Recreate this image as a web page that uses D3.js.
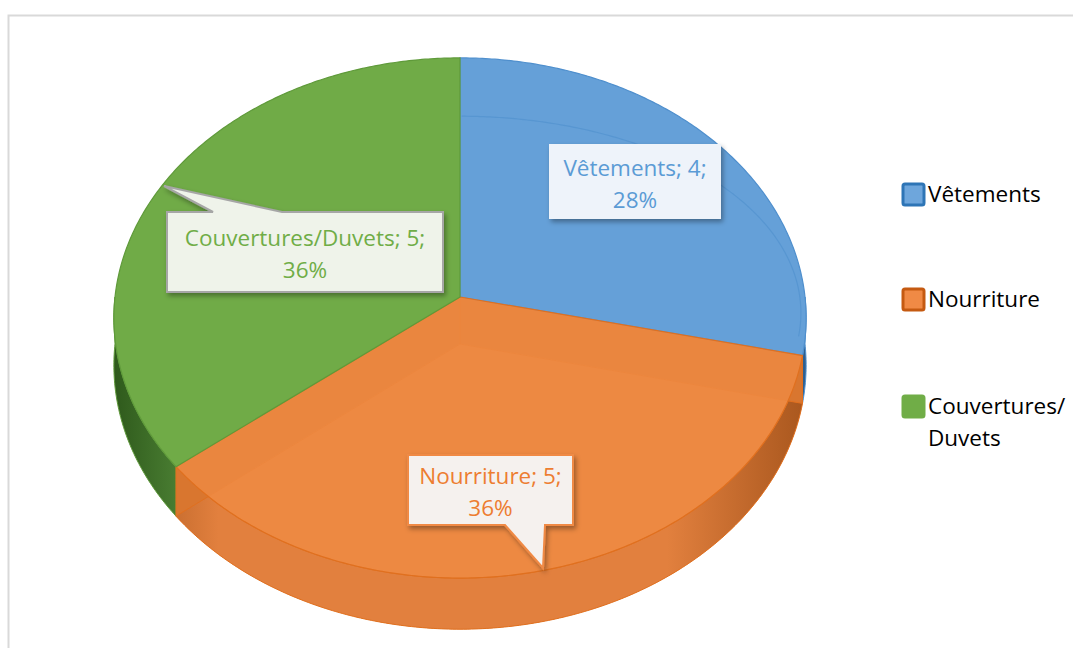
<!DOCTYPE html>
<html>
<head>
  <script src="https://d3js.org/d3.v7.min.js"></script>
  <style>
    body { margin: 0; background: #fff; }
    text { font-family: "Open Sans", "DejaVu Sans", sans-serif; }
  </style>
</head>
<body>
  <script>
    // data
    var categories = ["Vêtements", "Nourriture", "Couvertures/Duvets"];
    var values = [4, 5, 5];
    var percentLabels = ["28%", "36%", "36%"];
    var legendLines = [["Vêtements"], ["Nourriture"], ["Couvertures/", "Duvets"]];

    var topColors = ["#65a0d8", "#ee8a43", "#70ab47"];
    var edgeColors = ["#4f8fcd", "#e0701f", "#5f9a3a"];
    var wallDark = ["#2f5f8f", "#a9571e", "#2f5a1c"];
    var wallLight = ["#4a86c0", "#e2803e", "#5a9440"];
    var legendBorder = ["#2e75b6", "#c55a11", "#70ad47"];
    var legendFill = ["#6ea6dc", "#f08a45", "#70ad47"];
    var labelText = ["#5b9bd5", "#ed7d31", "#70ad47"];

    var width = 1073, height = 648;
    var svg = d3.select("body").append("svg").attr("width", width).attr("height", height);
    var defs = svg.append("defs");

    // frame
    svg.append("rect").attr("x", 8.5).attr("y", 15.5).attr("width", 1100).attr("height", 700)
      .attr("fill", "#fff").attr("stroke", "#d9d9d9").attr("stroke-width", 2);

    // projection of the tilted disk
    var cx = 460, cy = 297, K = 345, SIN = 0.749, Dr = 12.4, drop = 47;
    function proj(a, r, bottom) {
      var u = Math.sin(a) * r, v = -Math.cos(a) * r;
      var s = Dr / (Dr - v);
      return [cx + K * u * s, cy + K * v * SIN * s + (bottom ? drop * s : 0)];
    }
    function arcPts(a0, a1, r, bottom) {
      var n = Math.max(2, Math.ceil(Math.abs(a1 - a0) / 0.01)), pts = [];
      for (var i = 0; i <= n; i++) pts.push(proj(a0 + (a1 - a0) * i / n, r, bottom));
      return pts;
    }
    var line = d3.line();

    var pie = d3.pie().sort(null).startAngle(0).endAngle(2 * Math.PI);
    var slices = pie(values);

    // gradients for outer walls
    slices.forEach(function(d, i) {
      var g = defs.append("linearGradient").attr("id", "wall" + i)
        .attr("gradientUnits", "userSpaceOnUse")
        .attr("x1", cx - K).attr("x2", cx + K).attr("y1", 0).attr("y2", 0);
      g.append("stop").attr("offset", 0).attr("stop-color", wallDark[i]);
      g.append("stop").attr("offset", 0.15).attr("stop-color", wallLight[i]);
      g.append("stop").attr("offset", 0.8).attr("stop-color", wallLight[i]);
      g.append("stop").attr("offset", 1).attr("stop-color", wallDark[i]);
    });

    var shadow = defs.append("filter").attr("id", "shadow").attr("x", -0.2).attr("y", -0.2)
      .attr("width", 1.4).attr("height", 1.5);
    shadow.append("feDropShadow").attr("dx", 2).attr("dy", 3).attr("stdDeviation", 2.5)
      .attr("flood-color", "#000").attr("flood-opacity", 0.35);

    var front = slices[1];

    // bottom face of the translucent front slice
    svg.append("path")
      .attr("d", line([proj(0, 0, true)].concat(arcPts(front.startAngle, front.endAngle, 1, true))) + "Z")
      .attr("fill", "#e9843e");

    // outer walls (only the part facing the viewer)
    slices.forEach(function(d, i) {
      var a0 = Math.max(d.startAngle, Math.PI / 2), a1 = Math.min(d.endAngle, 3 * Math.PI / 2);
      if (a1 <= a0) return;
      var pts = arcPts(a0, a1, 1, false).concat(arcPts(a1, a0, 1, true));
      svg.append("path").attr("d", line(pts) + "Z")
        .attr("fill", "url(#wall" + i + ")").attr("stroke", edgeColors[i]).attr("stroke-width", 1);
    });

    // radial walls of the translucent front slice
    [front.startAngle, front.endAngle].forEach(function(a) {
      var pts = [proj(a, 0, false), proj(a, 1, false), proj(a, 1, true), proj(a, 0, true)];
      svg.append("path").attr("d", line(pts) + "Z")
        .attr("fill", "#d9762f").attr("stroke", "#e0701f").attr("stroke-width", 1);
    });

    // top faces
    slices.forEach(function(d, i) {
      var pts = [proj(0, 0, false)].concat(arcPts(d.startAngle, d.endAngle, 1, false));
      svg.append("path").attr("d", line(pts) + "Z")
        .attr("fill", topColors[i]).attr("fill-opacity", i === 1 ? 0.82 : 1)
        .attr("stroke", edgeColors[i]).attr("stroke-width", 1.2);
    });

    // faint reflection arc on blue slice
    var hl = [];
    for (var a = 0.005; a <= slices[0].endAngle - 0.03; a += 0.01) {
      var p = proj(a, 0.985, false);
      hl.push([p[0], p[1] + 55 * Math.cos(a)]);
    }
    svg.append("path").attr("d", line(hl))
      .attr("fill", "none").attr("stroke", "#4f8fcd").attr("stroke-opacity", 0.6).attr("stroke-width", 1.2);

    // data label callouts, in category order
    var labels = [
      { box: [550, 145, 170, 73], fill: "#eef3fa", stroke: "#eef3fa", tip: null },
      { box: [408, 455, 165, 70], fill: "#f5f1ee", stroke: "#f08a45", tip: { base: [505, 545], at: [543, 568], side: "bottom" } },
      { box: [167, 212, 276, 80], fill: "#eff3ea", stroke: "#a6a6a6", tip: { base: [213, 282], at: [164, 186], side: "top" } }
    ];
    labels.forEach(function(L, i) {
      var x = L.box[0], y = L.box[1], w = L.box[2], h = L.box[3], p;
      if (L.tip && L.tip.side === "top") {
        p = [[x, y], [L.tip.base[0], y], L.tip.at, [L.tip.base[1], y], [x + w, y], [x + w, y + h], [x, y + h]];
      } else if (L.tip) {
        p = [[x, y], [x + w, y], [x + w, y + h], [L.tip.base[1], y + h], L.tip.at, [L.tip.base[0], y + h], [x, y + h]];
      } else {
        p = [[x, y], [x + w, y], [x + w, y + h], [x, y + h]];
      }
      svg.append("path").attr("d", line(p) + "Z").attr("fill", L.fill)
        .attr("stroke", L.stroke).attr("stroke-width", 2).attr("filter", "url(#shadow)");
      var t = svg.append("text").attr("text-anchor", "middle").attr("fill", labelText[i])
        .attr("font-size", 22.5);
      t.append("tspan").attr("x", x + w / 2).attr("y", y + h / 2 - 6)
        .text(categories[i] + "; " + values[i] + ";");
      t.append("tspan").attr("x", x + w / 2).attr("y", y + h / 2 + 26).text(percentLabels[i]);
    });

    // legend
    var legendY = [183, 288, 395];
    categories.forEach(function(c, i) {
      var g = svg.append("g").attr("transform", "translate(902," + legendY[i] + ")");
      g.append("rect").attr("x", 1).attr("y", 1).attr("width", 21).attr("height", 21).attr("rx", 2)
        .attr("fill", legendFill[i]).attr("stroke", legendBorder[i]).attr("stroke-width", 3);
      legendLines[i].forEach(function(l, j) {
        g.append("text").attr("x", 26).attr("y", 19 + j * 32).attr("font-size", 22.5)
          .attr("fill", "#000").text(l);
      });
    });
  </script>
</body>
</html>
